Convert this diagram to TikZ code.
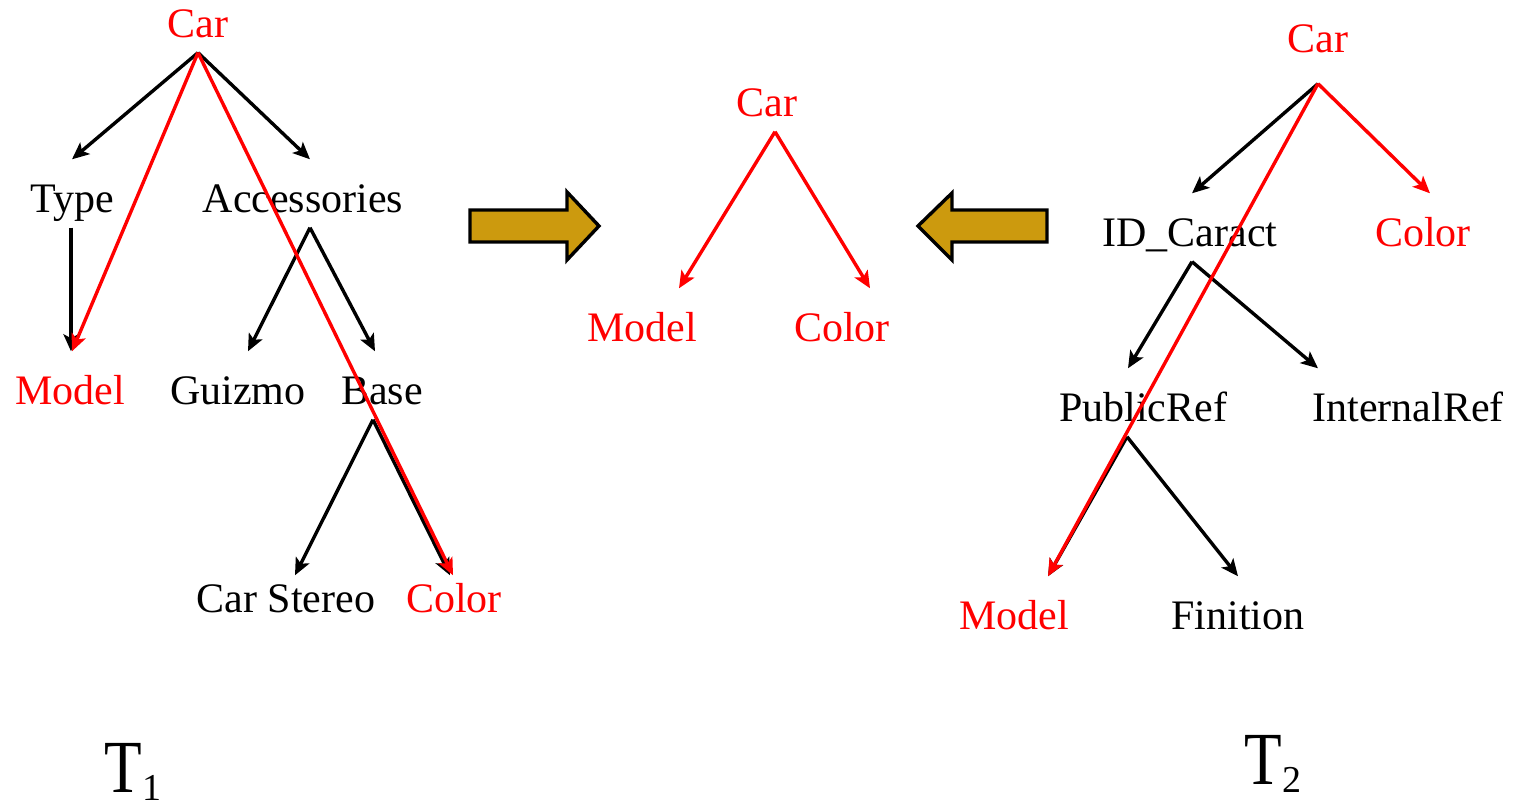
\documentclass[tikz,border=0pt]{standalone}
\usepackage{fontspec}
\setmainfont{Liberation Serif}
\usepackage{graphicx}
\usetikzlibrary{arrows.meta,calc}
\definecolor{brass}{RGB}{204,154,14}

\begin{document}
\begin{tikzpicture}[x=0.5pt, y=-0.5pt, line width=1.7pt,
   >={Stealth[length=8.5pt,width=7.5pt,inset=2pt]},
   word/.style={anchor=base, inner sep=0pt, text height=26pt, text depth=6.5pt, font=\fontsize{21}{25}\selectfont},
   key/.style={word, text=red},
   low/.style={text height=18pt},
   branch/.style={->},
   keybranch/.style={->, red},
   tree/.style={anchor=base west, inner sep=0pt, text depth=0pt, font=\fontsize{37.5}{40}\selectfont},
   fat/.style={draw, fill=brass}]
   \useasboundingbox (0,0) rectangle (1522,806);
   \node (car1) at (198,38) [key] {Car};
   \node (type) at (72,213) [word] {Type};
   \node (acc) at (303,213) [word] {Accessories};
   \node (model1) at (70,405) [key] {Model};
   \node (guizmo) at (238,405) [word] {Guizmo};
   \node (base) at (382,405) [word] {Base};
   \node (stereo) at (286,613) [word, low] {Car Stereo};
   \node (color1) at (454,613) [key, low] {Color};
   \node (car0) at (767,117) [key] {Car};
   \node (model0) at (642,342) [key] {Model};
   \node (color0) at (842,342) [key] {Color};
   \node (car2) at (1318,53) [key, text depth=14.5pt] {Car};
   \node (idc) at (1190,247) [word] {ID\_Caract};
   \node (color2) at (1423,247) [key] {Color};
   \node (pubref) at (1143,422) [word] {PublicRef};
   \node (intref) at (1408,422) [word] {InternalRef};
   \node (model2) at (1014,630) [key] {Model};
   \node (finition) at (1238,630) [word] {Finition};
   \node (t1) at (103,793) [tree] {\scalebox{0.82}[1]{T}\raisebox{-4pt}{\fontsize{19}{20}\selectfont 1}};
   \node (t2) at (1243,785) [tree] {\scalebox{0.82}[1]{T}\raisebox{-4pt}{\fontsize{19}{20}\selectfont 2}};
   \draw[fat] (470,210) -- (567,210) -- (567,192) -- (599,226) -- (567,260) -- (567,242) -- (470,242) -- cycle;
   \draw[fat] (1047,210) -- (952,210) -- (952,193) -- (918,226) -- (952,260) -- (952,242) -- (1047,242) -- cycle;
   \draw (car1.south)[branch] -- (type.north);
   \draw (car1.south)[branch] -- ($(acc.north)+(7,0)$);
   \draw ($(type.south)+(-1,0)$)[branch] -- ($(model1.north)+(1,0)$);
   \draw ($(acc.south)+(7,0)$)[branch] -- ($(guizmo.north)+(10,0)$);
   \draw ($(acc.south)+(7,0)$)[branch] -- ($(base.north)+(-7,0)$);
   \draw ($(base.south)+(-9,0)$)[branch] -- ($(stereo.north)+(9,0)$);
   \draw ($(base.south)+(-9,0)$)[branch] -- ($(color1.north)+(-4,0)$);
   \draw (car2.south)[branch] -- ($(idc.north)+(2,0)$);
   \draw ($(idc.south)+(2,0)$)[branch] -- ($(pubref.north)+(-15,0)$);
   \draw ($(idc.south)+(2,0)$)[branch] -- ($(intref.north)+(-90,0)$);
   \draw ($(pubref.south)+(-16,0)$)[branch] -- ($(model2.north)+(34,0)$);
   \draw ($(pubref.south)+(-16,0)$)[branch] -- (finition.north);
   \draw (car1.south)[keybranch] -- ($(model1.north)+(2,0)$);
   \draw (car1.south)[keybranch] -- ($(color1.north)+(-1,0)$);
   \draw ($(car0.south)+(8,0)$)[keybranch] -- ($(model0.north)+(37,0)$);
   \draw ($(car0.south)+(8,0)$)[keybranch] -- ($(color0.north)+(28,0)$);
   \draw (car2.south)[keybranch] -- ($(color2.north)+(7,0)$);
   \draw (car2.south)[keybranch] -- ($(model2.north)+(34,0)$);
\end{tikzpicture}
\end{document}
